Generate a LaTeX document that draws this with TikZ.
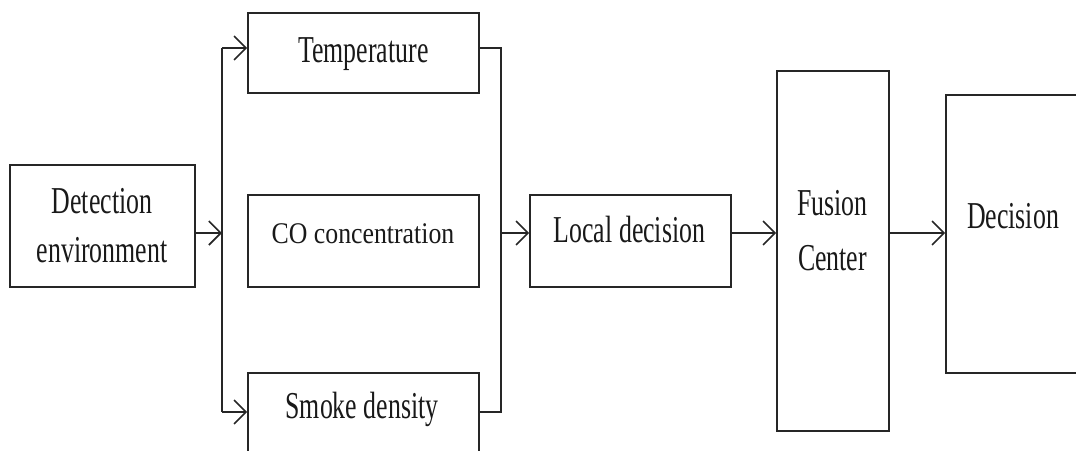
\documentclass[tikz,border=0pt]{standalone}
\usepackage{fontspec}
\setmainfont[FakeStretch=0.68]{Liberation Serif}
\newfontfamily\cofont[FakeStretch=0.86]{Liberation Serif}
\usetikzlibrary{arrows.meta}
\tikzset{
  box/.style={draw=black!85, line width=1.6pt, rectangle, inner sep=0pt},
  txt/.style={inner sep=0pt, anchor=base, font=\fontsize{38}{50}\selectfont, text=black!90},
  cotxt/.style={inner sep=0pt, anchor=base, font=\cofont\fontsize{30}{36}\selectfont, text=black!90},
  wire/.style={draw=black!85, line width=1.6pt},
  arr/.style={wire, -{Straight Barb[length=12pt,width=24pt,line width=1.6pt]}}
}
\begin{document}
\begin{tikzpicture}[x=1pt,y=-1pt]
\useasboundingbox (0,0) rectangle (1076,450);
\clip (0,0) rectangle (1076,450);
% boxes
\node[box, minimum width=185pt, minimum height=122pt] (det) at (102.5,226) {};
\node[box, minimum width=231pt, minimum height=80pt] (temp) at (363.5,53) {};
\node[box, minimum width=231pt, minimum height=92pt] (co) at (363.5,241) {};
\node[box, minimum width=231pt, minimum height=90pt] (smoke) at (363.5,418) {};
\node[box, minimum width=201pt, minimum height=92pt] (local) at (630.5,241) {};
\node[box, minimum width=112pt, minimum height=360pt] (fusion) at (833,251) {};
\node[box, minimum width=160pt, minimum height=278pt] (dec) at (1026,234) {};
% texts
\node[txt] (detA) at (102,213) {Detection};
\node[txt] (detB) at (102,262) {environment};
\node[txt] (tempT) at (363.5,62) {Temperature};
\node[cotxt] (coT) at (363,243) {CO concentration};
\node[txt] (smokeT) at (362,418) {Smoke density};
\node[txt] (localT) at (629.5,242) {Local decision};
\node[txt] (fusA) at (832.5,215) {Fusion};
\node[txt] (fusB) at (832.5,270) {Center};
\node[txt] (decT) at (1013,228) {Decision};
% junction coordinates
\coordinate (sTop) at (222,48);
\coordinate (sMid) at (222,233);
\coordinate (sBot) at (222,412);
\coordinate (mTop) at (501,48);
\coordinate (mMid) at (501,233);
\coordinate (mBot) at (501,412);
% connectors
\draw[arr] (det.east |- sMid) -- (sMid);
\draw[wire] (sTop) -- (sBot);
\draw[arr] (sTop) -- (temp.west |- sTop);
\draw[arr] (sBot) -- (smoke.west |- sBot);
\draw[wire] (temp.east |- mTop) -- (mTop) -- (mBot) -- (smoke.east |- mBot);
\draw[arr] (mMid) -- (local.west |- mMid);
\draw[arr] (local.east |- mMid) -- (fusion.west |- mMid);
\draw[arr] (fusion.east |- mMid) -- (dec.west |- mMid);
\end{tikzpicture}
\end{document}
